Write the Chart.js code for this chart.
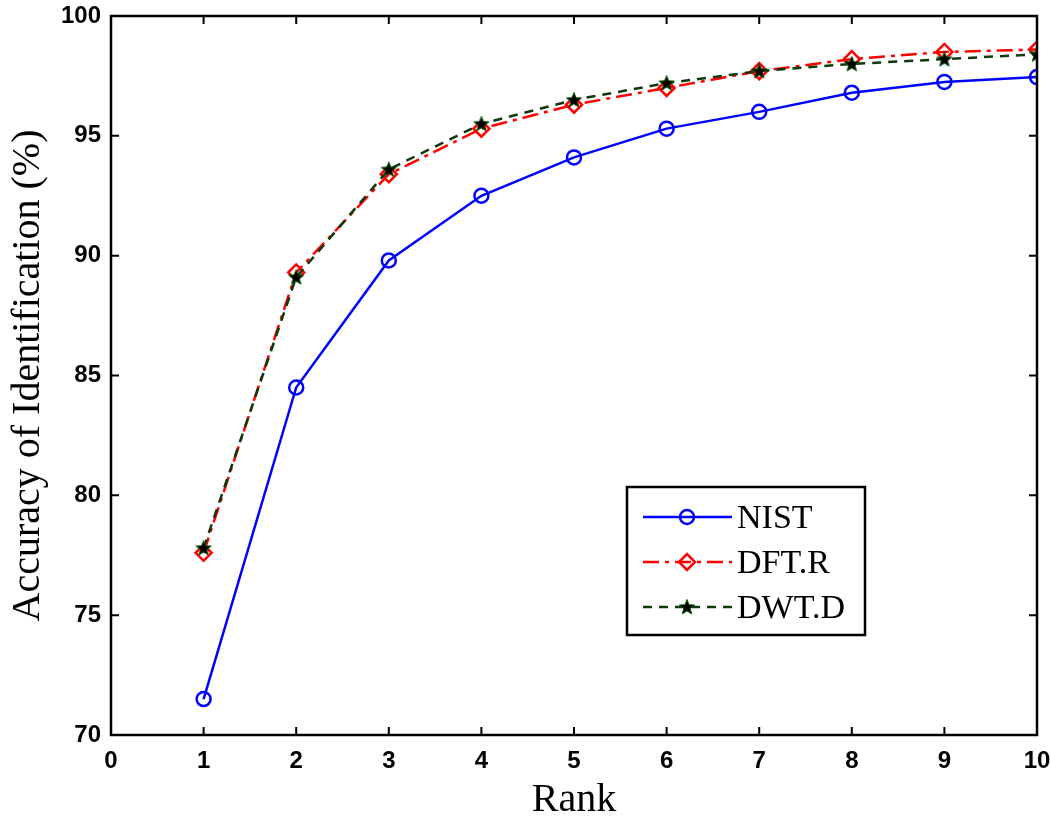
<!DOCTYPE html>
<html><head><meta charset="utf-8">
<script src="https://cdn.jsdelivr.net/npm/chart.js@4"></script>
<style>html,body{margin:0;padding:0;background:#fff}#wrap{width:1050px;height:826px}</style>
</head><body><div id="wrap"><canvas id="c" width="1050" height="826"></canvas></div>
<script>
const ranks = [1,2,3,4,5,6,7,8,9,10];
const nist = [71.5,84.5,89.8,92.5,94.1,95.3,96.0,96.8,97.25,97.45];
const dftR = [77.6,89.3,93.4,95.3,96.3,97.0,97.7,98.2,98.5,98.6];
const dwtD = [77.8,89.1,93.6,95.5,96.5,97.2,97.7,98.0,98.2,98.4];
const seriesNames = ['NIST','DFT.R','DWT.D'];
const xTicks = [0,1,2,3,4,5,6,7,8,9,10];
const yTicks = [70,75,80,85,90,95,100];

function pts(v){ return ranks.map((r,i)=>({x:r,y:v[i]})); }

// filled star marker
const star = document.createElement('canvas');
star.width = 18; star.height = 18;
(function(){
  const g = star.getContext('2d');
  g.beginPath();
  for(let i=0;i<10;i++){
    const r = i%2===0 ? 8 : 3.4;
    const a = -Math.PI/2 + i*Math.PI/5;
    const px = 9 + r*Math.cos(a), py = 9.5 + r*Math.sin(a);
    i===0 ? g.moveTo(px,py) : g.lineTo(px,py);
  }
  g.closePath();
  g.fillStyle = '#000'; g.fill();
  g.strokeStyle = '#0a5a0a'; g.lineWidth = 1; g.stroke();
})();

const tickFont = {family:'"Liberation Sans","Arial",sans-serif', size:24, weight:'bold'};

const framePlugin = {
  id:'frame',
  afterDatasetsDraw(chart){
    const {ctx, chartArea:a, scales:{x,y}} = chart;
    ctx.save();
    ctx.strokeStyle = '#000';
    ctx.lineWidth = 2.5;
    ctx.strokeRect(a.left, a.top, a.right-a.left, a.bottom-a.top);
    ctx.lineWidth = 2;
    const L = 8;
    ctx.beginPath();
    xTicks.forEach(v=>{
      const px = x.getPixelForValue(v);
      ctx.moveTo(px,a.bottom); ctx.lineTo(px,a.bottom-L);
      ctx.moveTo(px,a.top); ctx.lineTo(px,a.top+L);
    });
    yTicks.forEach(v=>{
      const py = y.getPixelForValue(v);
      ctx.moveTo(a.left,py); ctx.lineTo(a.left+L,py);
      ctx.moveTo(a.right,py); ctx.lineTo(a.right-L,py);
    });
    ctx.stroke();

    // legend
    const bx = 627, by = 487, bw = 238, bh = 148;
    ctx.fillStyle = '#fff';
    ctx.fillRect(bx,by,bw,bh);
    ctx.lineWidth = 2.5;
    ctx.strokeStyle = '#000';
    ctx.strokeRect(bx,by,bw,bh);
    const rows = [517,562,607];
    chart.data.datasets.forEach((ds,i)=>{
      const yy = rows[i];
      ctx.save();
      ctx.strokeStyle = ds.borderColor;
      ctx.lineWidth = ds.borderWidth;
      ctx.setLineDash(ds.borderDash || []);
      ctx.beginPath(); ctx.moveTo(643,yy); ctx.lineTo(732,yy); ctx.stroke();
      ctx.setLineDash([]);
      ctx.strokeStyle = ds.pointBorderColor;
      ctx.fillStyle = ds.pointBackgroundColor;
      ctx.lineWidth = ds.pointBorderWidth || 2;
      Chart.helpers.drawPoint(ctx, {pointStyle: ds.pointStyle, radius: ds.pointRadius, borderWidth: ds.pointBorderWidth||2, rotation:0}, 687, yy);
      ctx.restore();
    });
    ctx.font = '34px "Liberation Serif","Times New Roman",serif';
    ctx.fillStyle = '#000';
    ctx.textBaseline = 'middle';
    chart.data.datasets.forEach((ds,i)=>{ ctx.fillText(ds.label, 737, rows[i]+2); });
    ctx.restore();
  }
};

new Chart(document.getElementById('c'), {
  type:'line',
  data:{datasets:[
    {label:seriesNames[0], data:pts(nist), borderColor:'#0000ff', borderWidth:2.5, pointStyle:'circle', pointRadius:7, pointBorderColor:'#0000ff', pointBackgroundColor:'rgba(0,0,0,0)', pointBorderWidth:2.5, order:2},
    {label:seriesNames[1], data:pts(dftR), borderColor:'#ff0000', borderWidth:2.5, borderDash:[16,6,4,6], pointStyle:'rectRot', pointRadius:8, pointBorderColor:'#ff0000', pointBackgroundColor:'rgba(0,0,0,0)', pointBorderWidth:2.5, order:1},
    {label:seriesNames[2], data:pts(dwtD), borderColor:'#0b3a0b', borderWidth:2.5, borderDash:[9,7], pointStyle:star, pointRadius:8, pointBorderColor:'#000', pointBackgroundColor:'#000', pointBorderWidth:1, order:0}
  ]},
  options:{
    responsive:false, animation:false, devicePixelRatio:1,
    layout:{padding:{top:16,right:13,left:0,bottom:0}},
    elements:{line:{tension:0, fill:false}},
    plugins:{legend:{display:false}, tooltip:{enabled:false}},
    scales:{
      x:{type:'linear', min:0, max:10,
        afterFit(s){ s.height = 91; s.paddingLeft = 0; s.paddingRight = 0; },
        afterBuildTicks(s){ s.ticks = xTicks.map(v=>({value:v})); },
        grid:{display:false, drawTicks:false}, border:{display:false},
        ticks:{color:'#000', font:tickFont, padding:12, maxRotation:0},
        title:{display:true, text:'Rank', color:'#000', font:{family:'"Liberation Serif","Times New Roman",serif', size:40}, padding:{top:0,bottom:2}}
      },
      y:{type:'linear', min:70, max:100,
        afterFit(s){ s.width = 111; s.paddingTop = 0; s.paddingBottom = 0; },
        afterBuildTicks(s){ s.ticks = yTicks.map(v=>({value:v})); },
        grid:{display:false, drawTicks:false}, border:{display:false},
        ticks:{color:'#000', font:tickFont, padding:10},
        title:{display:true, text:'Accuracy of Identification (%)', color:'#000', font:{family:'"Liberation Serif","Times New Roman",serif', size:40}, padding:{top:4,bottom:0}}
      }
    }
  },
  plugins:[framePlugin]
});
</script>
</body></html>
